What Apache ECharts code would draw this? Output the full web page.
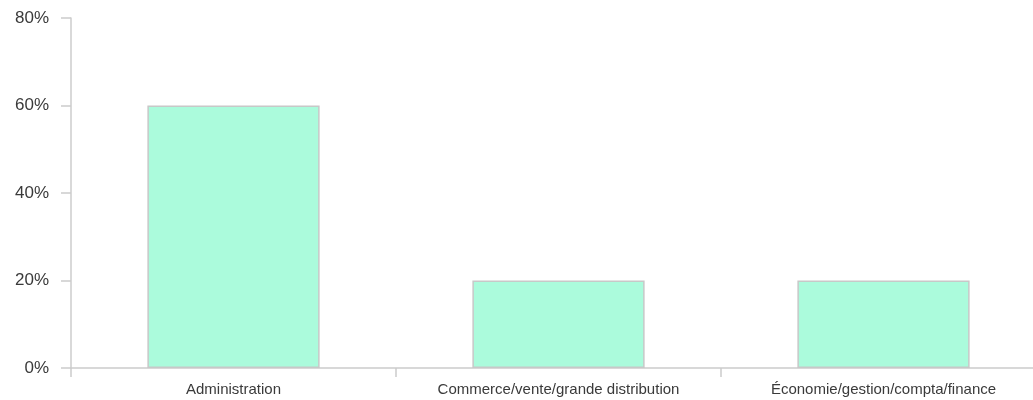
<!DOCTYPE html>
<html><head><meta charset="utf-8">
<script src="https://cdn.jsdelivr.net/npm/echarts@6/dist/echarts.min.js"></script>
<style>html,body{margin:0;padding:0;background:#fff;overflow:hidden;width:1033px;height:400px}#c{width:1046px;height:400px}</style>
</head><body><div id="c"></div>
<script>
const categories = ['Administration', 'Commerce/vente/grande distribution', 'Économie/gestion/compta/finance'];
const values = [60, 20, 20];
const yTicks = [0, 20, 40, 60, 80];

const chart = echarts.init(document.getElementById('c'), null, {renderer: 'canvas'});
chart.setOption({
  animation: false,
  grid: {left: 71, right: 0, top: 18, bottom: 32, containLabel: false},
  xAxis: {
    type: 'category',
    data: categories,
    boundaryGap: true,
    axisLine: {lineStyle: {color: '#cccccc', width: 1.5}},
    axisTick: {show: true, length: 9, lineStyle: {color: '#cccccc', width: 1.5}},
    axisLabel: {color: '#3a3a3a', fontSize: 15, fontFamily: 'Liberation Sans, Arial, sans-serif', margin: 14},
    splitLine: {show: false}
  },
  yAxis: {
    type: 'value',
    min: yTicks[0], max: yTicks[yTicks.length - 1], interval: 20,
    axisLine: {show: true, lineStyle: {color: '#cccccc', width: 1.5}},
    axisTick: {show: true, length: 10, lineStyle: {color: '#cccccc', width: 1.5}},
    axisLabel: {color: '#3a3a3a', fontSize: 17, fontFamily: 'Liberation Sans, Arial, sans-serif', margin: 22, formatter: '{value}%'},
    splitLine: {show: false}
  },
  series: [{
    type: 'bar',
    data: values,
    barWidth: '53%',
    itemStyle: {color: '#abfbdc', borderColor: '#c8c8c8', borderWidth: 1.5}
  }]
});
</script></body></html>
